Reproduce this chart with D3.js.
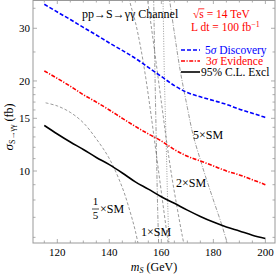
<!DOCTYPE html>
<html><head><meta charset="utf-8">
<script src="https://cdn.jsdelivr.net/npm/d3@7"></script>
<style>body{margin:0;background:#fff}text{font-family:"Liberation Serif","DejaVu Serif",serif}</style>
</head><body><svg id="c" width="278" height="275"></svg>
<script>
// ---- data ----
const massGrid   = [115,120,125,130,135,140,145,150,155,160,165,170,175,180,185,190,195,200];
const discovery5 = [36.1,34.0,32.1,30.2,28.5,26.8,25.3,23.8,22.2,20.7,19.3,18.3,17.7,17.2,16.7,16.1,15.6,15.1];
const evidence3  = [21.6,20.4,19.2,18.0,17.0,16.0,15.0,14.1,13.3,12.6,11.8,11.2,10.8,10.4,10.0,9.7,9.35,9.0];
const excl95     = [14.2,13.3,12.5,11.8,11.1,10.5,9.85,9.2,8.7,8.2,7.8,7.4,7.05,6.75,6.5,6.3,6.1,5.95];

const fifthSM_m = [115.5,120,125,130,135,140,145,148,150,152];
const fifthSM_v = [16.9,16.5,15.7,14.5,12.8,11.0,8.8,7.3,6.3,5.2];
const oneSM_m   = [146,148,150,152,154,156,158,160,162,164];
const oneSM_v   = [44,36.5,31.5,26,20.5,15.5,11.5,8.5,6.3,4.7];
const twoSM_m   = [152,154,156,158,160,162,164,166,168,170];
const twoSM_v   = [52,41,31,23,17,12.6,9.6,7.6,6.1,5.0];
const fiveSM_m  = [162.5,165,167.2,170,172.2,175,176.8,180,183,186];
const fiveSM_v  = [41,29,21.8,16.3,13.2,10.9,9.7,8.0,6.7,5.5];
const dashdot_m = [157.0,157.6,158.1,158.5,159.0];
const dashdot_v = [40,20,12,8,5.5];
const dotted_m  = [160.6,161.2,161.9,162.4,163.0];
const dotted_v  = [40,20,12,8,5.5];

const xTicks = [120,140,160,180,200];
const xMinor = [115,125,130,135,145,150,155,165,170,175,185,190,195];
const yTicks = [10,15,20,30];
const yMinor = [6,7,8,9,11,12,13,14,16,17,18,19,25,35];

// ---- layout ----
const L=33, R=275, T=0, B=243;
const svg = d3.select("#c");
const x = d3.scaleLinear().domain([110.65,203.7]).range([L,R]);
const y = d3.scaleLog().domain([5.745,37.3]).range([B,T]);

svg.append("defs").append("clipPath").attr("id","clip")
  .append("rect").attr("x",L).attr("y",T).attr("width",R-L).attr("height",B-T);
const plot = svg.append("g").attr("clip-path","url(#clip)");

const line = d3.line().x(d=>x(d[0])).y(d=>y(d[1])).curve(d3.curveMonotoneX);
const lineY = d3.line().x(d=>x(d[0])).y(d=>y(d[1])).curve(d3.curveCatmullRom);
const zip = (a,b)=>a.map((v,i)=>[v,b[i]]);

const thin = [
  [fifthSM_m,fifthSM_v,"3,2"],
  [oneSM_m,oneSM_v,"3,2"],
  [twoSM_m,twoSM_v,"3,2"],
  [fiveSM_m,fiveSM_v,"4,1.5,1,1.5"],
  [dashdot_m,dashdot_v,"4,1.5,1,1.5"],
  [dotted_m,dotted_v,"1,1.5"]
];
thin.forEach(([m,v,da])=>{
  plot.append("path").attr("d",lineY(zip(m,v))).attr("fill","none")
    .attr("stroke","#555").attr("stroke-width",0.6).attr("stroke-dasharray",da);
});

plot.append("path").attr("d",line(zip(massGrid,discovery5))).attr("fill","none")
  .attr("stroke","#0000ff").attr("stroke-width",1.6).attr("stroke-dasharray","4,2");
plot.append("path").attr("d",line(zip(massGrid,evidence3))).attr("fill","none")
  .attr("stroke","#ff0000").attr("stroke-width",1.6).attr("stroke-dasharray","4,1.5,1.2,1.5");
plot.append("path").attr("d",line(zip(massGrid,excl95))).attr("fill","none")
  .attr("stroke","#000").attr("stroke-width",1.6);

// ---- frame & ticks ----
const fc="#999";
svg.append("rect").attr("x",L).attr("y",T+0.5).attr("width",R-L).attr("height",B-T-0.5)
  .attr("fill","none").attr("stroke",fc).attr("stroke-width",1);
const tk = svg.append("g").attr("stroke",fc).attr("stroke-width",0.8);
xTicks.forEach(t=>{tk.append("line").attr("x1",x(t)).attr("x2",x(t)).attr("y1",B).attr("y2",B-4);
  tk.append("line").attr("x1",x(t)).attr("x2",x(t)).attr("y1",T).attr("y2",T+4);});
xMinor.forEach(t=>{tk.append("line").attr("x1",x(t)).attr("x2",x(t)).attr("y1",B).attr("y2",B-2.5);
  tk.append("line").attr("x1",x(t)).attr("x2",x(t)).attr("y1",T).attr("y2",T+2.5);});
yTicks.forEach(t=>{tk.append("line").attr("y1",y(t)).attr("y2",y(t)).attr("x1",L).attr("x2",L+4);
  tk.append("line").attr("y1",y(t)).attr("y2",y(t)).attr("x1",R).attr("x2",R-4);});
yMinor.forEach(t=>{tk.append("line").attr("y1",y(t)).attr("y2",y(t)).attr("x1",L).attr("x2",L+2.5);
  tk.append("line").attr("y1",y(t)).attr("y2",y(t)).attr("x1",R).attr("x2",R-2.5);});

xTicks.forEach(t=>svg.append("text").attr("x",x(t)).attr("y",B+13).attr("text-anchor","middle")
  .attr("font-size",11).text(t));
yTicks.forEach(t=>svg.append("text").attr("x",L-3).attr("y",y(t)+4).attr("text-anchor","end")
  .attr("font-size",11).text(t));

// axis titles
const xt = svg.append("text").attr("x",154).attr("y",271).attr("text-anchor","middle").attr("font-size",12);
xt.append("tspan").attr("font-style","italic").text("m");
xt.append("tspan").attr("font-size",8).attr("font-style","italic").attr("dy",2).text("S");
xt.append("tspan").attr("dy",-2).text(" (GeV)");

const yt = svg.append("text").attr("transform","translate(13,127) rotate(-90)").attr("text-anchor","middle").attr("font-size",12);
yt.append("tspan").attr("font-style","italic").attr("font-size",13).text("σ");
yt.append("tspan").attr("font-size",8).attr("dy",2).text("S→γγ");
yt.append("tspan").attr("dy",-2).text(" (fb)");

// annotations
svg.append("text").attr("x",82).attr("y",18).attr("font-size",12).text("pp→S→γγ Channel");
const s1 = svg.append("text").attr("x",193).attr("y",18).attr("font-size",11.5).attr("fill","#ff0000");
s1.append("tspan").text("√");
s1.append("tspan").text("s");
s1.append("tspan").text(" = 14 TeV");
{ const n=s1.node(); const a=n.getStartPositionOfChar(1), b=n.getEndPositionOfChar(1);
  svg.append("line").attr("x1",a.x-1).attr("x2",b.x+0.5).attr("y1",8.8).attr("y2",8.8)
   .attr("stroke","#ff0000").attr("stroke-width",0.8); }
const s2 = svg.append("text").attr("x",191).attr("y",31).attr("font-size",11.5).attr("fill","#ff0000");
s2.append("tspan").text("L dt = 100 fb");
s2.append("tspan").attr("font-size",8).attr("dy",-4).text("−1");

// legend
const leg = [
  ["#0000ff","4,2",[["5",""],["σ","italic"],[" Discovery",""]],50,205],
  ["#ff0000","4,1.5,1.2,1.5",[["3",""],["σ","italic"],[" Evidence",""]],61,206],
  ["#000","",[["95% C.L. Excl",""]],72,201]
];
leg.forEach(([c,da,parts,yy,tx])=>{
  svg.append("line").attr("x1",181).attr("x2",200).attr("y1",yy).attr("y2",yy)
    .attr("stroke",c).attr("stroke-width",1.6).attr("stroke-dasharray",da||null);
  const t=svg.append("text").attr("x",tx).attr("y",yy+3.5).attr("font-size",11.5).attr("fill",c);
  parts.forEach(([s,st])=>t.append("tspan").attr("font-style",st||null).text(s));
});

// curve labels
svg.append("text").attr("x",95.5).attr("y",205).attr("font-size",11).attr("text-anchor","middle").text("1");
svg.append("line").attr("x1",92).attr("x2",99).attr("y1",209).attr("y2",209).attr("stroke","#000").attr("stroke-width",0.7);
svg.append("text").attr("x",95.5).attr("y",218.5).attr("font-size",11).attr("text-anchor","middle").text("5");
svg.append("text").attr("x",100).attr("y",213).attr("font-size",12).text("×SM");
svg.append("text").attr("x",141).attr("y",236).attr("font-size",12).text("1×SM");
svg.append("text").attr("x",176).attr("y",187).attr("font-size",12).text("2×SM");
svg.append("text").attr("x",193).attr("y",139).attr("font-size",12).text("5×SM");
</script></body></html>
